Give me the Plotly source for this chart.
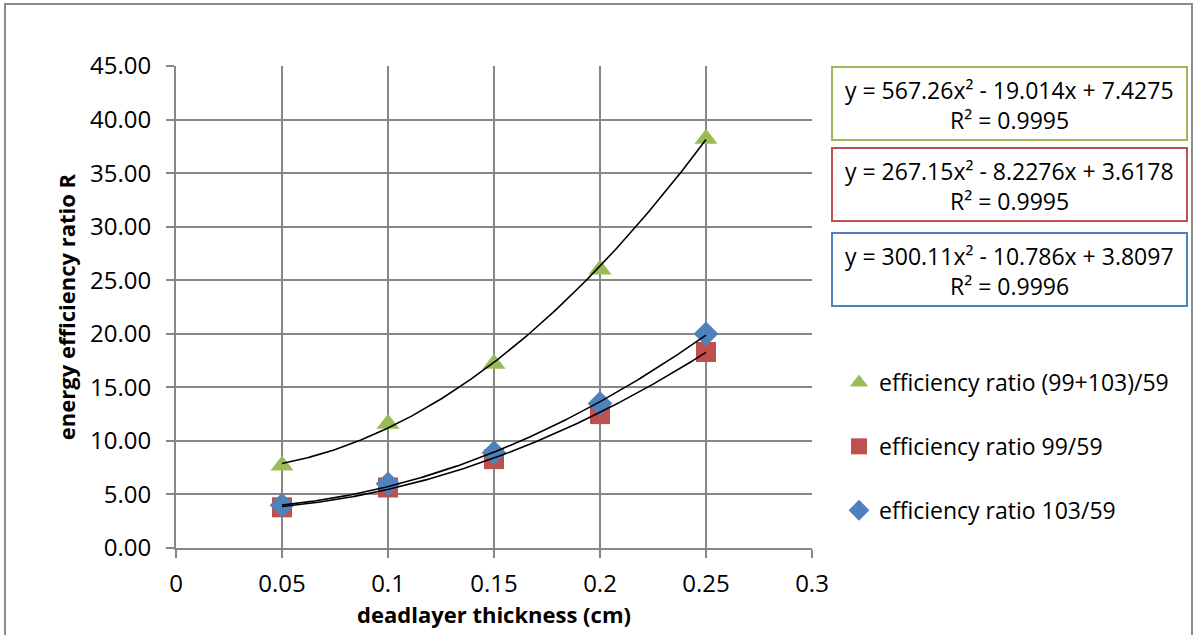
import numpy as np
import plotly.graph_objects as go

# deadlayer thickness (cm)
thickness = [0.05, 0.10, 0.15, 0.20, 0.25]

# efficiency ratios per line combination
ratio_sum = [7.7, 11.6, 17.2, 26.0, 38.2]     # (99+103)/59
ratio_99 = [3.8, 5.65, 8.3, 12.5, 18.3]       # 99/59
ratio_103 = [4.0, 6.0, 8.9, 13.5, 20.0]       # 103/59

series_names = ["efficiency ratio (99+103)/59", "efficiency ratio 99/59", "efficiency ratio 103/59"]
series_colors = ["#9BBB59", "#C0504D", "#4F81BD"]
series_symbols = ["triangle-up", "square", "diamond"]

# quadratic trendline coefficients (a, b, c) and R²
fit_coeffs = [(567.26, -19.014, 7.4275), (267.15, -8.2276, 3.6178), (300.11, -10.786, 3.8097)]
fit_r2 = [0.9995, 0.9995, 0.9996]
fit_labels = ["y = 567.26x² - 19.014x + 7.4275",
              "y = 267.15x² - 8.2276x + 3.6178",
              "y = 300.11x² - 10.786x + 3.8097"]

x_ticks = [0, 0.05, 0.1, 0.15, 0.2, 0.25, 0.3]
x_tick_text = ["0", "0.05", "0.1", "0.15", "0.2", "0.25", "0.3"]
y_ticks = [0, 5, 10, 15, 20, 25, 30, 35, 40, 45]

FONT = "Open Sans"
GRID = "#878787"

W, H = 1196, 635
L, R, T, B = 176, 812, 66, 548

fig = go.Figure()

# trendlines
xs = np.linspace(thickness[0], thickness[-1], 200)
for (a, b, c) in fit_coeffs:
    fig.add_trace(go.Scatter(x=xs, y=a * xs**2 + b * xs + c, mode="lines",
                             line=dict(color="black", width=1.6),
                             showlegend=False, hoverinfo="skip"))

# data points
for i, (name, vals) in enumerate(zip(series_names, [ratio_sum, ratio_99, ratio_103])):
    size = 20 if series_symbols[i] != "diamond" else 19
    fig.add_trace(go.Scatter(x=thickness, y=vals, mode="markers", name=name,
                             legendgroup=name,
                             marker=dict(symbol=series_symbols[i], size=size,
                                         color=series_colors[i], line=dict(width=0))))

# draw markers above the fit lines, legend order green, red, blue
fig.data = fig.data[3:] + fig.data[:3]

def px_x(p):
    return (p - L) / (R - L)

def px_y(p):
    return (B - p) / (B - T)

shapes = []
annotations = []

# outer chart frame
shapes.append(dict(type="rect", xref="paper", yref="paper",
                   x0=px_x(5), x1=px_x(1192), y0=px_y(640), y1=px_y(4),
                   line=dict(color="#8C8C8C", width=2), fillcolor="rgba(0,0,0,0)", layer="below"))

# trendline equation boxes
box_tops = [67, 148, 233]
box_h = 73
for i in range(3):
    y0, y1 = box_tops[i], box_tops[i] + box_h
    shapes.append(dict(type="rect", xref="paper", yref="paper",
                       x0=px_x(832), x1=px_x(1187), y0=px_y(y1), y1=px_y(y0),
                       line=dict(color=series_colors[i], width=2), fillcolor="white"))
    annotations.append(dict(xref="paper", yref="paper", x=px_x(1009.5), y=px_y(y0 + 23),
                            text=fit_labels[i], showarrow=False,
                            font=dict(family=FONT, size=23, color="black"),
                            xanchor="center", yanchor="middle"))
    annotations.append(dict(xref="paper", yref="paper", x=px_x(1009.5), y=px_y(y0 + 53),
                            text=f"R² = {fit_r2[i]:.4f}", showarrow=False,
                            font=dict(family=FONT, size=23, color="black"),
                            xanchor="center", yanchor="middle"))

fig.update_layout(
    width=W, height=H,
    margin=dict(l=L, r=W - R, t=T, b=H - B),
    paper_bgcolor="white", plot_bgcolor="white",
    font=dict(family=FONT, size=22, color="black"),
    shapes=shapes, annotations=annotations,
    legend=dict(x=px_x(839), y=px_y(361), xanchor="left", yanchor="top",
                font=dict(family=FONT, size=23, color="black"),
                tracegroupgap=31, itemwidth=30, bgcolor="rgba(0,0,0,0)"),
    xaxis=dict(range=[0, 0.3], tickvals=x_ticks, ticktext=x_tick_text,
               showgrid=True, gridcolor=GRID, gridwidth=2,
               showline=True, linecolor=GRID, linewidth=2,
               ticks="outside", ticklen=8, tickwidth=2, tickcolor=GRID,
               zeroline=False, tickfont=dict(size=24),
               ticklabelstandoff=5,
               title=dict(text="<b>deadlayer thickness (cm)</b>", font=dict(size=22), standoff=4)),
    yaxis=dict(range=[0, 45], tickvals=y_ticks, tickformat=".2f",
               showgrid=True, gridcolor=GRID, gridwidth=2,
               showline=True, linecolor=GRID, linewidth=2,
               ticks="outside", ticklen=8, tickwidth=2, tickcolor=GRID,
               zeroline=False, tickfont=dict(size=24),
               ticklabelstandoff=10,
               title=dict(text="<b>energy efficiency ratio R</b>", font=dict(size=22), standoff=8)),
)

fig.write_html("out.html")
